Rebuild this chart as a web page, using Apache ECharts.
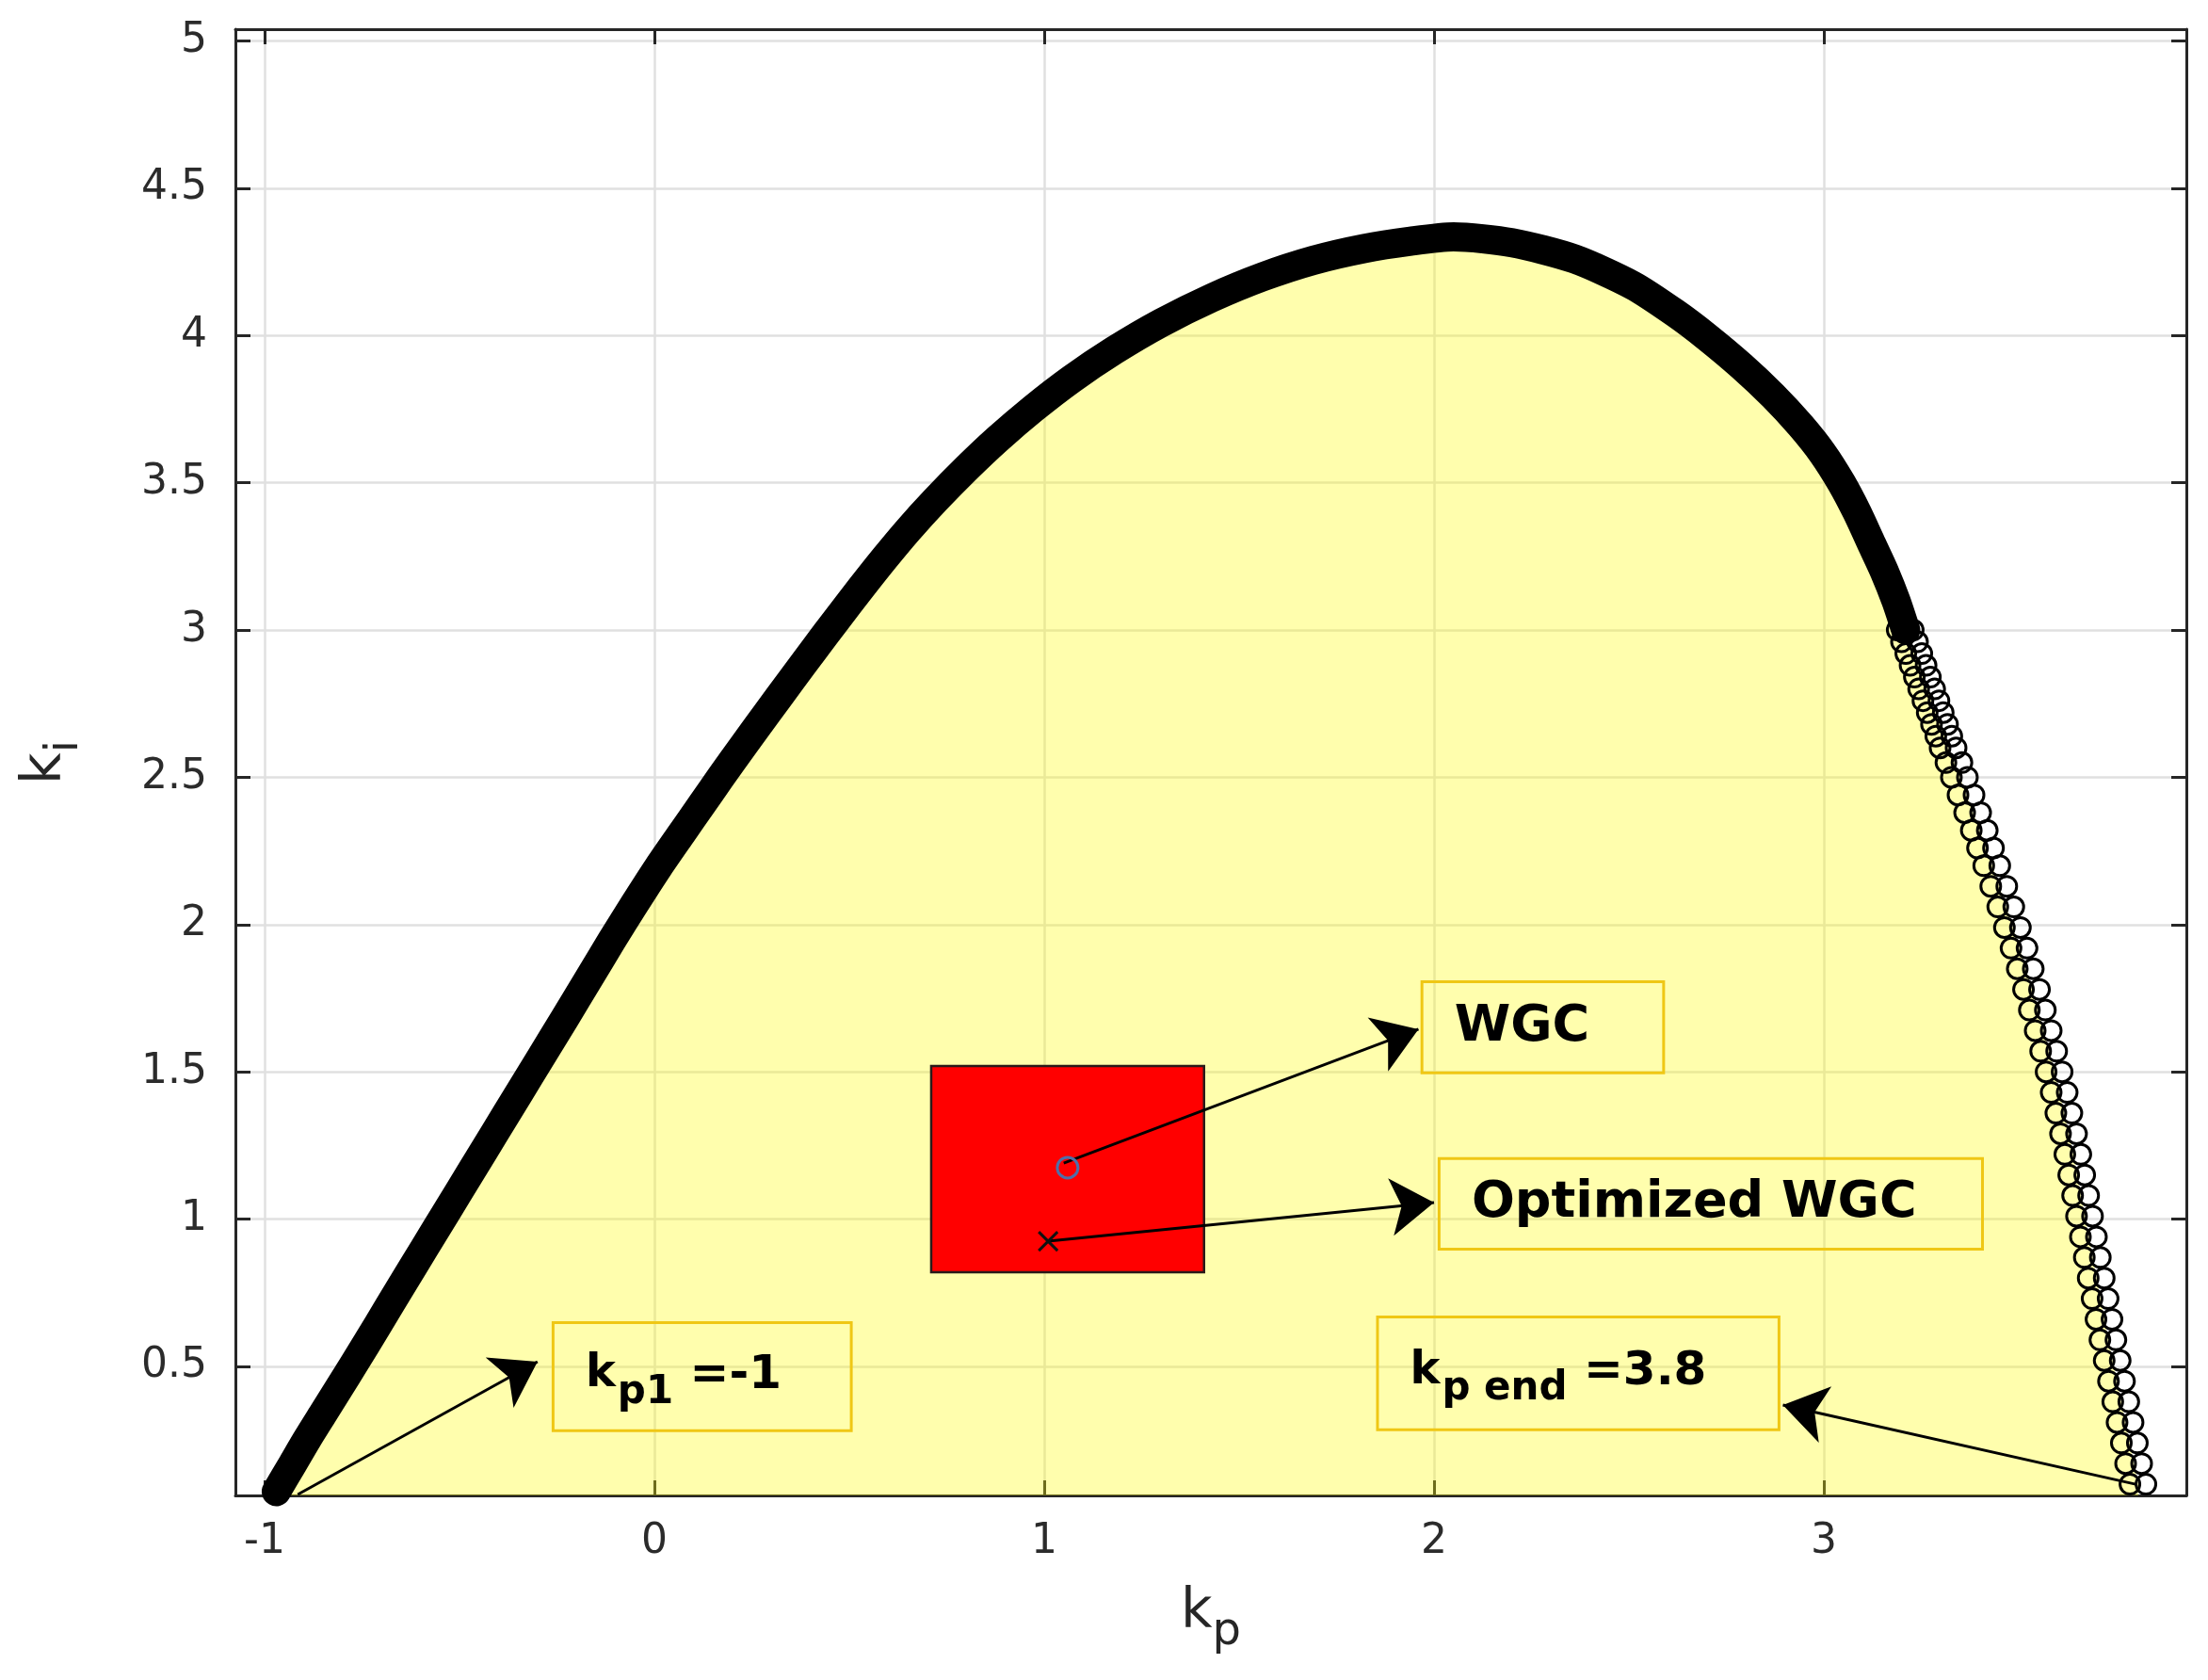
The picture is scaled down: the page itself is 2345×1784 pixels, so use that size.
<!DOCTYPE html>
<html>
<head>
<meta charset="utf-8">
<script src="https://cdn.jsdelivr.net/npm/echarts@6/dist/echarts.min.js"></script>
<style>
html, body { margin: 0; padding: 0; background: #fff; }
#chart { width: 2345px; height: 1784px; }
</style>
</head>
<body>
<div id="chart"></div>
<script>
// stability boundary (kp -> ki)
var kp = [-0.97, -0.93, -0.89, -0.85, -0.81, -0.77, -0.71, -0.65, -0.59, -0.53,
  -0.47, -0.41, -0.35, -0.29, -0.23, -0.17, -0.11, -0.05, 0.01, 0.07,
  0.12, 0.17, 0.23, 0.29, 0.35, 0.41, 0.47, 0.53, 0.59, 0.65,
  0.72, 0.80, 0.88, 0.97, 1.07, 1.18, 1.30, 1.43, 1.56, 1.69,
  1.82, 1.94, 2.05, 2.20, 2.36, 2.51, 2.62, 2.70, 2.79, 2.87,
  2.94, 2.997, 3.045, 3.085, 3.12, 3.155, 3.185, 3.21,
  3.221, 3.232, 3.243, 3.254, 3.265, 3.276, 3.287, 3.298, 3.309, 3.320,
  3.335, 3.349, 3.366, 3.383, 3.400, 3.416, 3.432, 3.450, 3.468, 3.485,
  3.502, 3.518, 3.534, 3.549, 3.564, 3.578, 3.592, 3.605, 3.617, 3.629,
  3.640, 3.650, 3.660, 3.670, 3.680, 3.690, 3.700, 3.710, 3.720, 3.730,
  3.741, 3.752, 3.763, 3.774, 3.785, 3.796, 3.807];
var ki = [0.075, 0.165, 0.255, 0.34, 0.425, 0.51, 0.64, 0.772, 0.902, 1.032,
  1.162, 1.292, 1.422, 1.552, 1.682, 1.813, 1.945, 2.072, 2.195, 2.31,
  2.405, 2.50, 2.611, 2.72, 2.828, 2.935, 3.04, 3.143, 3.243, 3.338,
  3.44, 3.548, 3.648, 3.75, 3.852, 3.95, 4.043, 4.128, 4.199, 4.255,
  4.295, 4.32, 4.335, 4.315, 4.26, 4.17, 4.075, 3.995, 3.895, 3.795,
  3.695, 3.60, 3.50, 3.40, 3.30, 3.20, 3.10, 3.00,
  2.96, 2.92, 2.88, 2.84, 2.80, 2.76, 2.72, 2.68, 2.64, 2.60,
  2.55, 2.50, 2.44, 2.38, 2.32, 2.26, 2.20, 2.13, 2.06, 1.99,
  1.92, 1.85, 1.78, 1.71, 1.64, 1.57, 1.50, 1.43, 1.36, 1.29,
  1.22, 1.15, 1.08, 1.01, 0.94, 0.87, 0.80, 0.73, 0.66, 0.59,
  0.52, 0.45, 0.38, 0.31, 0.24, 0.17, 0.10];
// markers are packed into a solid band up to this point
var denseCount = 58;

var xTicks = [-1, 0, 1, 2, 3];
var yTicks = [0.5, 1, 1.5, 2, 2.5, 3, 3.5, 4, 4.5, 5];
var xRange = [-1.075, 3.93];
var yRange = [0.062, 5.04];

var wgcPoint = [1.06, 1.175];
var optPoint = [1.01, 0.925];
var redBox = [0.71, 1.52, 1.41, 0.82];

var boxTexts = ['{k|k}{s|p1}{t| =-1}', '{w|WGC}', '{w|Optimized WGC}', '{k|k}{s|p end}{t| =3.8}'];
var boxCorners = [
  [[-0.26, 0.649], [0.505, 0.282]],
  [[1.969, 1.806], [2.589, 1.497]],
  [[2.013, 1.206], [3.407, 0.898]],
  [[1.855, 0.668], [2.885, 0.285]]
];
var arrowFrom = [[-0.915, 0.065], [1.05, 1.19], [1.01, 0.925], [3.80, 0.10]];
var arrowTo = [[-0.30, 0.516], [1.96, 1.645], [2.00, 1.056], [2.895, 0.369]];

var curve = kp.map(function (v, i) { return [v, ki[i]]; });
var font = 'DejaVu Sans';
var axisColor = '#262626';

var boxRich = {
  k: { fontSize: 48, fontWeight: 'bold', fontFamily: font, color: '#000', verticalAlign: 'top', lineHeight: 52 },
  s: { fontSize: 42, fontWeight: 'bold', fontFamily: font, color: '#000', verticalAlign: 'top', lineHeight: 46, padding: [22, 0, 0, 2] },
  t: { fontSize: 50, fontWeight: 'bold', fontFamily: font, color: '#000', verticalAlign: 'top', lineHeight: 52 },
  w: { fontSize: 54, fontWeight: 'bold', fontFamily: font, color: '#000', lineHeight: 58 }
};

function frameAxis(pos, ticks, range) {
  return {
    type: 'value', position: pos, min: range[0], max: range[1],
    axisLine: { show: true, onZero: false, lineStyle: { color: axisColor, width: 3 } },
    axisTick: { show: true, inside: true, length: 16, customValues: ticks, lineStyle: { color: axisColor, width: 3 } },
    axisLabel: { show: false },
    splitLine: { show: false }
  };
}

var nameRich = {
  k: { fontSize: 58, fontFamily: font, color: axisColor, verticalAlign: 'top', lineHeight: 62 },
  s: { fontSize: 48, fontFamily: font, color: axisColor, verticalAlign: 'top', lineHeight: 52, padding: [26, 0, 0, 0] }
};

var xMain = frameAxis('bottom', xTicks, xRange);
xMain.axisLabel = { show: true, customValues: xTicks, fontSize: 44, fontFamily: font, color: '#2b2b2b', margin: 28 };
xMain.splitLine = { show: true, lineStyle: { color: '#e0e0e0', width: 2.5 } };
xMain.name = '{k|k}{s|p}';
xMain.nameLocation = 'middle';
xMain.nameGap = 96;
xMain.nameTextStyle = { rich: nameRich };

var yMain = frameAxis('left', yTicks, yRange);
yMain.axisLabel = { show: true, customValues: yTicks, fontSize: 44, fontFamily: font, color: '#2b2b2b', margin: 30 };
yMain.splitLine = { show: true, lineStyle: { color: '#e0e0e0', width: 2.5 } };
yMain.name = '{k|k}{s|i}';
yMain.nameLocation = 'middle';
yMain.nameRotate = 90;
yMain.nameGap = 168;
yMain.nameTextStyle = { rich: nameRich };

var circleStyle = { color: 'rgba(0,0,0,0)', borderColor: '#000', borderWidth: 3, opacity: 1 };
var openCircles = curve.slice(denseCount - 1);

var chart = echarts.init(document.getElementById('chart'));
chart.setOption({
  animation: false,
  backgroundColor: '#fff',
  grid: { left: 250, top: 31, right: 23, bottom: 196, containLabel: false, outerBoundsMode: 'none' },
  xAxis: [xMain, frameAxis('top', xTicks, xRange)],
  yAxis: [yMain, frameAxis('right', yTicks, yRange)],
  series: [
    {
      // shaded region under the boundary
      type: 'line', z: 1, data: curve, showSymbol: false, silent: true,
      smooth: 0.25,
      lineStyle: { width: 0, opacity: 0 },
      areaStyle: { color: 'rgba(255,252,10,0.48)', origin: 'start' }
    },
    {
      // overlapping markers look like a solid band here
      type: 'line', z: 2, data: curve.slice(0, denseCount), showSymbol: false, silent: true, clip: false,
      smooth: 0.25,
      lineStyle: { color: '#000', width: 31, cap: 'round', join: 'round' }
    },
    {
      type: 'scatter', z: 3, data: openCircles, symbol: 'circle', symbolSize: 21, symbolOffset: [-9, 0], silent: true,
      itemStyle: circleStyle
    },
    {
      type: 'scatter', z: 3, data: openCircles, symbol: 'circle', symbolSize: 21, symbolOffset: [8, 0], silent: true,
      itemStyle: circleStyle
    },
    {
      type: 'custom', z: 4, silent: true, data: [redBox],
      renderItem: function (params, api) {
        var a = api.coord([api.value(0), api.value(1)]);
        var b = api.coord([api.value(2), api.value(3)]);
        return {
          type: 'rect',
          shape: { x: a[0], y: a[1], width: b[0] - a[0], height: b[1] - a[1] },
          style: { fill: '#ff0000', stroke: '#2a1a1a', lineWidth: 2.5 }
        };
      }
    },
    {
      type: 'scatter', z: 5, data: [], silent: true,
      markLine: {
        silent: true,
        symbol: ['none', 'arrow'],
        symbolSize: 46,
        label: { show: false },
        lineStyle: { color: '#000', width: 3, type: 'solid', opacity: 1 },
        data: arrowFrom.map(function (p, i) { return [{ coord: p }, { coord: arrowTo[i] }]; })
      }
    },
    {
      type: 'scatter', z: 6, data: [wgcPoint], symbol: 'circle', symbolSize: 22, silent: true,
      itemStyle: { color: 'rgba(0,0,0,0)', borderColor: '#4f6fa8', borderWidth: 3, opacity: 1 }
    },
    {
      type: 'scatter', z: 6, data: [optPoint], symbol: 'path://M0,0L10,10M10,0L0,10', symbolSize: 20, silent: true,
      itemStyle: { color: 'rgba(0,0,0,0)', borderColor: '#111', borderWidth: 3, opacity: 1 }
    },
    {
      type: 'scatter', z: 7, data: [], silent: true,
      markArea: {
        silent: true,
        itemStyle: { color: 'rgba(0,0,0,0)', borderColor: '#e8ad1c', borderWidth: 3 },
        label: { show: true, position: 'insideLeft', distance: 36, rich: boxRich },
        data: boxCorners.map(function (c, i) {
          return [{ coord: c[0], label: { formatter: boxTexts[i] } }, { coord: c[1] }];
        })
      }
    }
  ]
});
</script>
</body>
</html>
